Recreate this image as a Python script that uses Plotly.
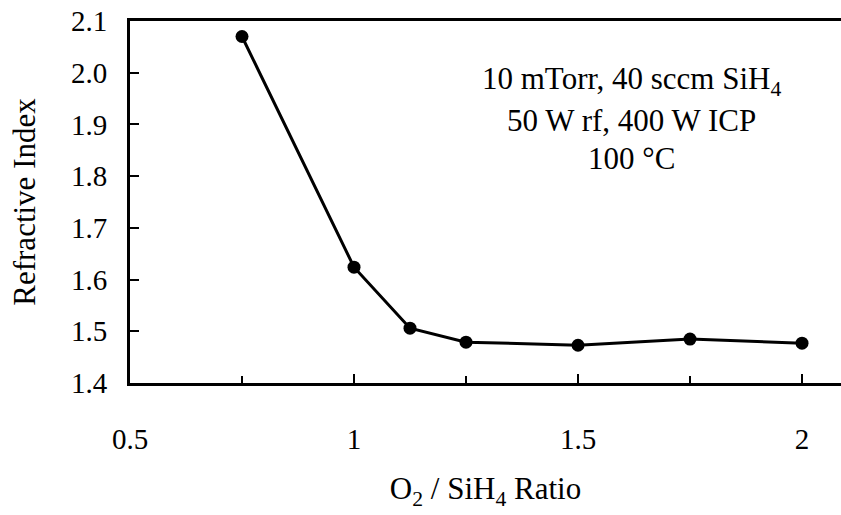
import plotly.graph_objects as go

ratio = [0.75, 1.0, 1.125, 1.25, 1.5, 1.75, 2.0]
refractive_index = [2.070, 1.624, 1.506, 1.479, 1.473, 1.485, 1.477]

x_ticks = [0.5, 1, 1.5, 2]
x_tick_labels = ["0.5", "1", "1.5", "2"]
x_minor_ticks = [0.75, 1.25, 1.75]
y_ticks = [1.4, 1.5, 1.6, 1.7, 1.8, 1.9, 2.0, 2.1]
y_tick_labels = ["1.4", "1.5", "1.6", "1.7", "1.8", "1.9", "2.0", "2.1"]

note_lines = ["10 mTorr, 40 sccm SiH<sub>4</sub>", "50 W rf, 400 W ICP", "100 °C"]
note_centers_px = [(631, 81), (631, 120), (631, 158)]

FONT = "Liberation Serif"

L, T, B = 130, 21, 132
W, H = 841, 515
plot_w = W - L
plot_h = H - T - B

fig = go.Figure()
fig.add_trace(go.Scatter(
    x=ratio, y=refractive_index, mode="lines+markers",
    line=dict(color="black", width=3),
    marker=dict(color="black", size=13),
    showlegend=False,
))

fig.update_layout(
    width=W, height=H,
    margin=dict(l=L, r=0, t=T, b=B),
    paper_bgcolor="white", plot_bgcolor="white",
    font=dict(family=FONT, size=29, color="black"),
    xaxis=dict(
        range=[0.5, 2.087], tickmode="array", tickvals=x_ticks, ticktext=x_tick_labels,
        ticks="inside", ticklen=9, tickwidth=2, tickcolor="black",
        minor=dict(tickmode="array", tickvals=x_minor_ticks, ticks="inside",
                   ticklen=7, tickwidth=2, tickcolor="black", showgrid=False),
        showline=True, linewidth=3, linecolor="black", mirror=True,
        showgrid=False, zeroline=False,
        ticklabelstandoff=28,
        tickfont=dict(family=FONT, size=29, color="black"),
        title=dict(text="O<sub>2</sub> / SiH<sub>4</sub> Ratio", standoff=24,
                   font=dict(family=FONT, size=31, color="black")),
    ),
    yaxis=dict(
        range=[1.4, 2.1], tickmode="array", tickvals=y_ticks, ticktext=y_tick_labels,
        ticks="inside", ticklen=9, tickwidth=2, tickcolor="black",
        showline=True, linewidth=3, linecolor="black", mirror=False,
        showgrid=False, zeroline=False,
        ticklabelstandoff=14,
        tickfont=dict(family=FONT, size=29, color="black"),
        title=dict(text="Refractive Index", standoff=27,
                   font=dict(family=FONT, size=31, color="black")),
    ),
)

for line, (px, py) in zip(note_lines, note_centers_px):
    fig.add_annotation(
        x=(px - L) / plot_w, y=1 - (py - T) / plot_h,
        xref="x domain", yref="y domain",
        text=line, showarrow=False,
        font=dict(family=FONT, size=31, color="black"),
        xanchor="center", yanchor="middle",
    )

fig.write_html("out.html")
